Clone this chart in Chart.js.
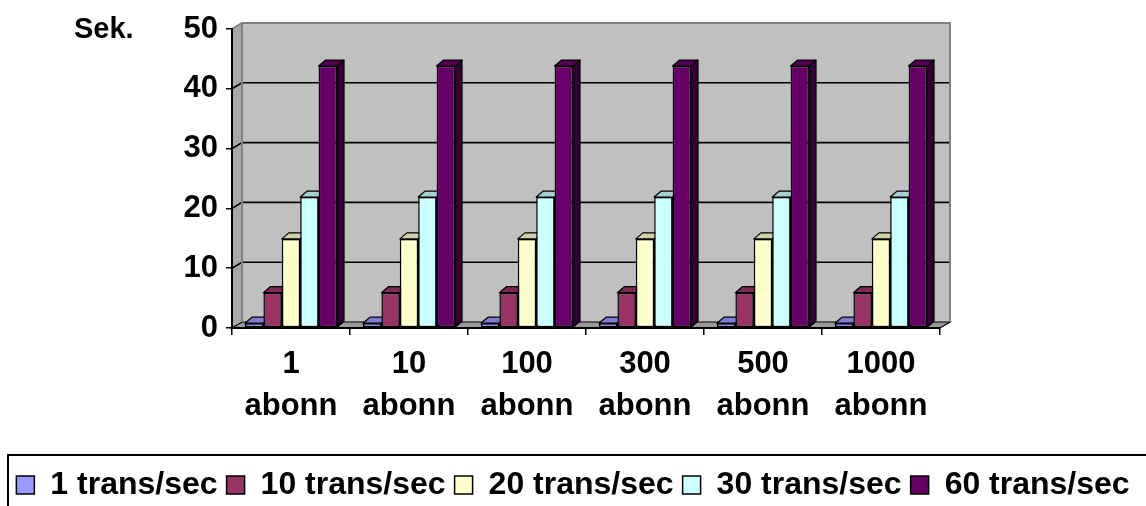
<!DOCTYPE html>
<html>
<head>
<meta charset="utf-8">
<style>
  html, body { margin: 0; padding: 0; background: #ffffff; }
  #wrap { width: 1146px; height: 506px; }
</style>
<script src="https://cdn.jsdelivr.net/npm/chart.js@4/dist/chart.umd.min.js"></script>
</head>
<body>
<div id="wrap"><canvas id="c" width="1146" height="506"></canvas></div>
<script>
// Categories (number of subscribers) and the response time in seconds per load level
const categories = [['1', 'abonn'], ['10', 'abonn'], ['100', 'abonn'], ['300', 'abonn'], ['500', 'abonn'], ['1000', 'abonn']];
const seriesNames = ['1 trans/sec', '10 trans/sec', '20 trans/sec', '30 trans/sec', '60 trans/sec'];
const rate1  = [0.8, 0.8, 0.8, 0.8, 0.8, 0.8];
const rate10 = [5.9, 5.9, 5.9, 5.9, 5.9, 5.9];
const rate20 = [14.9, 14.9, 14.9, 14.9, 14.9, 14.9];
const rate30 = [21.9, 21.9, 21.9, 21.9, 21.9, 21.9];
const rate60 = [43.8, 43.8, 43.8, 43.8, 43.8, 43.8];
const yTicks = [0, 10, 20, 30, 40, 50];
const yTitle = 'Sek.';

const seriesValues = [rate1, rate10, rate20, rate30, rate60];
const seriesColors = ['#9999FF', '#993366', '#FFFFCC', '#CCFFFF', '#660066'];

const FONT = "'Liberation Sans', Arial, Helvetica, sans-serif";
const WALL = { dx: 10, dy: -6 };   // depth of the back wall
const BAR = { dx: 7, dy: -6 };     // depth of each column

function shade(hex, f) {
  const n = parseInt(hex.slice(1), 16);
  const r = Math.round(((n >> 16) & 255) * f);
  const g = Math.round(((n >> 8) & 255) * f);
  const b = Math.round((n & 255) * f);
  return 'rgb(' + r + ',' + g + ',' + b + ')';
}

function poly(ctx, pts, fill, stroke, lw) {
  ctx.beginPath();
  ctx.moveTo(pts[0][0], pts[0][1]);
  for (let i = 1; i < pts.length; i++) ctx.lineTo(pts[i][0], pts[i][1]);
  ctx.closePath();
  if (fill) { ctx.fillStyle = fill; ctx.fill(); }
  if (stroke) { ctx.strokeStyle = stroke; ctx.lineWidth = lw || 1; ctx.stroke(); }
}

// Back wall, side wall, floor and gridlines of the 3-D box
const wallPlugin = {
  id: 'walls',
  beforeDraw(chart) {
    const ctx = chart.ctx;
    const { left, right, top, bottom } = chart.chartArea;
    const ys = chart.scales.y;
    const dx = WALL.dx, dy = WALL.dy;
    ctx.save();
    // back wall
    poly(ctx, [[left + dx, top + dy], [right + dx, top + dy], [right + dx, bottom + dy], [left + dx, bottom + dy]], '#C0C0C0');
    // side wall
    poly(ctx, [[left, top], [left + dx, top + dy], [left + dx, bottom + dy], [left, bottom]], '#A8A8A8');
    // floor
    poly(ctx, [[left, bottom], [left + dx, bottom + dy], [right + dx, bottom + dy], [right, bottom]], '#999999', '#000000', 1.2);
    // gridlines on side and back wall
    ctx.strokeStyle = '#000000';
    ctx.lineWidth = 1.6;
    yTicks.forEach(v => {
      if (v === yTicks[0] || v === yTicks[yTicks.length - 1]) return;
      const yy = ys.getPixelForValue(v);
      ctx.beginPath();
      ctx.moveTo(left, yy);
      ctx.lineTo(left + dx, yy + dy);
      ctx.lineTo(right + dx, yy + dy);
      ctx.stroke();
    });
    // wall edges
    ctx.strokeStyle = '#808080';
    ctx.lineWidth = 2;
    ctx.beginPath();
    ctx.moveTo(left, top);
    ctx.lineTo(left + dx, top + dy);
    ctx.lineTo(right + dx, top + dy);
    ctx.lineTo(right + dx, bottom + dy);
    ctx.stroke();
    ctx.beginPath();
    ctx.moveTo(left + dx, top + dy);
    ctx.lineTo(left + dx, bottom + dy);
    ctx.stroke();
    ctx.restore();
  }
};

// Top and right faces of each column; the front face is drawn by the bar controller
const columnPlugin = {
  id: 'columns3d',
  beforeDatasetsDraw(chart) {
    const ctx = chart.ctx;
    ctx.save();
    ctx.lineJoin = 'round';
    chart.data.datasets.forEach((ds, i) => {
      const meta = chart.getDatasetMeta(i);
      const col = seriesColors[i];
      meta.data.forEach(bar => {
        const p = bar.getProps(['x', 'y', 'base', 'width'], true);
        const x0 = p.x - p.width / 2, x1 = p.x + p.width / 2;
        poly(ctx, [[x1, p.y], [x1 + BAR.dx, p.y + BAR.dy], [x1 + BAR.dx, p.base + BAR.dy], [x1, p.base]],
             shade(col, 0.5), '#000000', 1.2);
        poly(ctx, [[x0, p.y], [x0 + BAR.dx, p.y + BAR.dy], [x1 + BAR.dx, p.y + BAR.dy], [x1, p.y]],
             shade(col, 0.82), '#000000', 1.2);
      });
    });
    ctx.restore();
  }
};

// Axis caption and legend frame
const framePlugin = {
  id: 'frame',
  afterDraw(chart) {
    const ctx = chart.ctx;
    ctx.save();
    ctx.fillStyle = '#000000';
    ctx.font = 'bold 29px ' + FONT;
    ctx.textBaseline = 'alphabetic';
    ctx.textAlign = 'left';
    ctx.fillText(yTitle, 74, 38);
    ctx.strokeStyle = '#000000';
    ctx.lineWidth = 2;
    ctx.strokeRect(8, 455, 1160, 80);
    ctx.restore();
  }
};

new Chart(document.getElementById('c'), {
  type: 'bar',
  data: {
    labels: categories,
    datasets: seriesNames.map((name, i) => ({
      label: name,
      data: seriesValues[i],
      backgroundColor: seriesColors[i],
      borderColor: '#000000',
      borderWidth: 1.5,
      borderSkipped: false,
      categoryPercentage: 0.78,
      barPercentage: 1.0
    }))
  },
  options: {
    responsive: false,
    animation: false,
    layout: { padding: { top: 29, left: 0, right: 0, bottom: -5 } },
    plugins: {
      tooltip: { enabled: false },
      title: { display: false },
      legend: {
        display: true,
        position: 'bottom',
        labels: {
          color: '#000000',
          font: { family: FONT, size: 32, weight: 'bold' },
          boxWidth: 18,
          boxHeight: 18,
          padding: 9
        }
      }
    },
    scales: {
      x: {
        offset: true,
        grid: { display: true, offset: true, drawOnChartArea: false, tickLength: 7, color: '#000000', lineWidth: 1.5 },
        border: { display: true, color: '#000000', width: 2 },
        ticks: {
          color: '#000000',
          font: { family: FONT, size: 31, weight: 'bold', lineHeight: 1.35 },
          padding: 9,
          maxRotation: 0,
          autoSkip: false
        },
        afterFit(scale) { scale.height = 132; }
      },
      y: {
        min: 0,
        max: 50,
        grid: { display: true, drawOnChartArea: false, tickLength: 6, color: '#000000', lineWidth: 1.5 },
        border: { display: true, color: '#000000', width: 2 },
        ticks: {
          stepSize: 10,
          color: '#000000',
          font: { family: FONT, size: 31, weight: 'bold' },
          padding: 8
        },
        afterFit(scale) { scale.width = 232; }
      },
      yRight: {
        position: 'right',
        display: true,
        grid: { display: false },
        border: { display: false },
        ticks: { display: false },
        afterFit(scale) { scale.width = 206; }
      }
    }
  },
  plugins: [wallPlugin, columnPlugin, framePlugin]
});
</script>
</body>
</html>
